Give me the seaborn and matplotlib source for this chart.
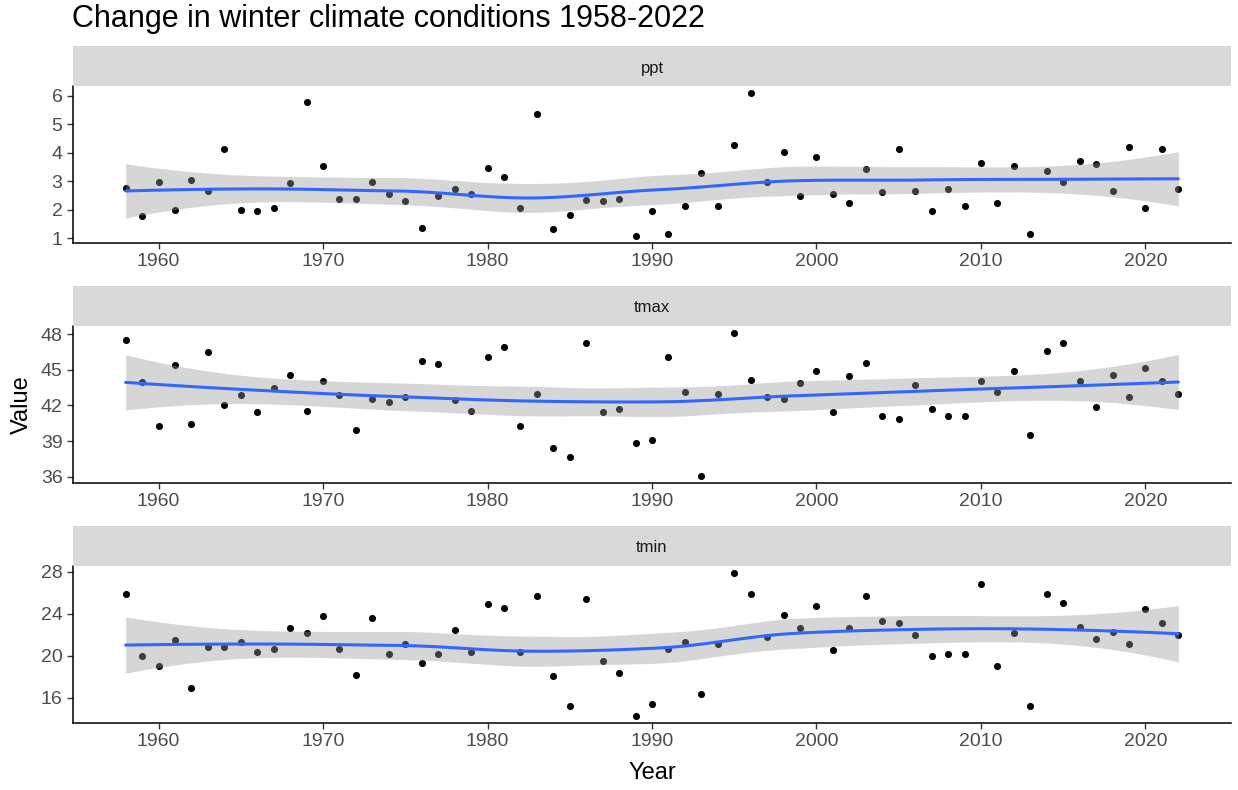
import numpy as np
import pandas as pd
import matplotlib
matplotlib.use("Agg")
import matplotlib.pyplot as plt
import seaborn as sns

# ---------------- data ----------------
title = "Change in winter climate conditions 1958-2022"
years = list(range(1958, 2023))
variables = ["ppt", "tmax", "tmin"]

ppt = [2.75, 1.76, 2.98, 2.0, 3.04, 2.65, 4.14, 2.0, 1.94, 2.06,
       2.92, 5.79, 3.53, 2.37, 2.37, 2.98, 2.54, 2.31, 1.34, 2.47,
       2.73, 2.55, 3.47, 3.16, 2.06, 5.36, 1.33, 1.82, 2.35, 2.31,
       2.38, 1.08, 1.94, 1.14, 2.13, 3.29, 2.13, 4.27, 6.09, 2.98,
       4.02, 2.48, 3.84, 2.55, 2.25, 3.41, 2.61, 4.14, 2.67, 1.94,
       2.73, 2.13, 3.65, 2.25, 3.53, 1.14, 3.35, 2.98, 3.71, 3.59,
       2.67, 4.19, 2.07, 4.14, 2.73]

tmax = [47.49, 43.94, 40.25, 45.38, 40.42, 46.5, 42.0, 42.87, 41.43, 43.43,
        44.59, 41.57, 44.03, 42.87, 39.97, 42.56, 42.28, 42.73, 45.74, 45.46,
        42.42, 41.57, 46.05, 46.93, 40.25, 43.0, 38.39, 37.66, 47.21, 41.43,
        41.71, 38.81, 39.09, 46.05, 43.15, 36.08, 43.0, 48.08, 44.14, 42.73,
        42.56, 43.88, 44.9, 41.43, 44.45, 45.6, 41.12, 40.84, 43.74, 41.71,
        41.12, 41.12, 44.03, 43.15, 44.9, 39.55, 46.62, 47.21, 44.03, 41.86,
        44.59, 42.73, 45.18, 44.03, 43.0]

tmin = [25.89, 19.99, 19.0, 21.46, 16.89, 20.82, 20.82, 21.29, 20.34, 20.65,
        22.6, 22.13, 23.76, 20.65, 18.2, 23.6, 20.15, 21.13, 19.35, 20.15,
        22.44, 20.34, 24.9, 24.58, 20.34, 25.73, 18.04, 15.23, 25.41, 19.51,
        18.36, 14.27, 15.39, 20.65, 21.29, 16.38, 21.13, 27.87, 25.89, 21.81,
        23.91, 22.6, 24.74, 20.5, 22.6, 25.73, 23.28, 23.12, 21.97, 19.99,
        20.15, 20.15, 26.88, 19.0, 22.13, 15.23, 25.89, 25.06, 22.76, 21.61,
        22.28, 21.13, 24.42, 23.12, 21.97]

x_ticks = [1960, 1970, 1980, 1990, 2000, 2010, 2020]
y_ticks = {"ppt": [1, 2, 3, 4, 5, 6],
           "tmax": [36, 39, 42, 45, 48],
           "tmin": [16, 20, 24, 28]}

df = pd.DataFrame({"Year": years * 3,
                   "Variable": np.repeat(variables, len(years)),
                   "Value": ppt + tmax + tmin})


# ---------------- loess (like R loess with interpolation surface) ----------------
def t_quantile(dof):
    z = 1.959963985
    return (z + (z**3 + z) / (4 * dof) + (5 * z**5 + 16 * z**3 + 3 * z) / (96 * dof**2)
            + (3 * z**7 + 19 * z**5 + 17 * z**3 - 15 * z) / (384 * dof**3))


def kd_vertices(x, fc):
    xs = np.sort(x)
    margin = 0.005 * (xs[-1] - xs[0])
    verts = [xs[0] - margin, xs[-1] + margin]

    def split(pts):
        if len(pts) <= fc:
            return
        m = (len(pts) + 1) // 2
        v = (pts[m - 1] + pts[m]) / 2
        verts.append(v)
        split(pts[:m])
        split(pts[m:])

    split(xs)
    return np.array(sorted(verts))


def loess_ci(x, y, xnew, span=0.75, cell=0.2):
    x = np.asarray(x, float)
    y = np.asarray(y, float)
    n = len(x)
    q = int(np.floor(span * n))

    def rows(x0):
        d = np.abs(x - x0)
        h = np.sort(d)[q - 1]
        u = np.clip(d / h, 0, 1)
        w = (1 - u**3) ** 3
        X = np.column_stack([np.ones(n), x - x0, (x - x0) ** 2])
        A = X.T @ (w[:, None] * X)
        B = np.linalg.solve(A, (X * w[:, None]).T)
        return B[0], B[1]

    fc = int(np.floor(n * span * cell))
    V = kd_vertices(x, fc)
    Lv = []
    Dv = []
    for v in V:
        a, b = rows(v)
        Lv.append(a)
        Dv.append(b)
    Lv = np.array(Lv)
    Dv = np.array(Dv)

    def interp_rows(xx):
        out = []
        for xv in xx:
            i = np.searchsorted(V, xv) - 1
            i = min(max(i, 0), len(V) - 2)
            h = V[i + 1] - V[i]
            t = (xv - V[i]) / h
            h00 = 2 * t**3 - 3 * t**2 + 1
            h10 = t**3 - 2 * t**2 + t
            h01 = -2 * t**3 + 3 * t**2
            h11 = t**3 - t**2
            out.append(h00 * Lv[i] + h10 * h * Dv[i] + h01 * Lv[i + 1] + h11 * h * Dv[i + 1])
        return np.array(out)

    L = interp_rows(x)
    res = y - L @ y
    IL = np.eye(n) - L
    M = IL.T @ IL
    d1 = np.trace(M)
    d2 = np.trace(M @ M)
    sigma = np.sqrt(np.sum(res**2) / d1)
    dof = d1**2 / d2
    Ln = interp_rows(xnew)
    fit = Ln @ y
    se = sigma * np.sqrt(np.sum(Ln**2, axis=1))
    tq = t_quantile(dof)
    return fit, fit - tq * se, fit + tq * se


# ---------------- figure ----------------
sns.set_theme(style="ticks")
plt.rcParams["font.family"] = ["Liberation Sans", "DejaVu Sans"]

W, H = 1238, 790
fig = plt.figure(figsize=(W / 100, H / 100), dpi=100)
fig.patch.set_facecolor("white")

left, right = 73, 1231
panels = [(86, 243), (326, 483), (566, 723)]
strip_h = 40

for var, (top, bot) in zip(variables, panels):
    ax = fig.add_axes([left / W, 1 - bot / H, (right - left) / W, (bot - top) / H])
    sax = fig.add_axes([left / W, 1 - top / H, (right - left) / W, strip_h / H])
    sax.set_facecolor("#D9D9D9")
    for s in sax.spines.values():
        s.set_visible(False)
    sax.set_xticks([])
    sax.set_yticks([])
    sax.text(0.5, 0.45, var, ha="center", va="center", fontsize=12,
             color="#1A1A1A", transform=sax.transAxes)

    sub = df[df["Variable"] == var]
    xg = np.linspace(min(years), max(years), 80)
    fit, lo, hi = loess_ci(sub["Year"].values, sub["Value"].values, xg)

    sns.scatterplot(data=sub, x="Year", y="Value", color="black", s=26,
                    linewidth=0, ax=ax, zorder=2)
    ax.fill_between(xg, lo, hi, color="#999999", alpha=0.4, linewidth=0, zorder=3)
    sns.lineplot(x=xg, y=fit, color="#3366FF", linewidth=2.2, ax=ax, zorder=4)

    xr = max(years) - min(years)
    ax.set_xlim(min(years) - 0.05 * xr, max(years) + 0.05 * xr)
    ymin = min(sub["Value"].min(), lo.min())
    ymax = max(sub["Value"].max(), hi.max())
    yr = ymax - ymin
    ax.set_ylim(ymin - 0.05 * yr, ymax + 0.05 * yr)

    ax.set_xticks(x_ticks)
    ax.set_yticks(y_ticks[var])
    ax.tick_params(axis="both", labelsize=14, labelcolor="#4D4D4D", color="#333333",
                   length=4.5, width=1, pad=3)
    ax.set_xlabel("")
    ax.set_ylabel("")
    ax.set_facecolor("white")
    for s in ["top", "right"]:
        ax.spines[s].set_visible(False)
    for s in ["left", "bottom"]:
        ax.spines[s].set_color("black")
        ax.spines[s].set_linewidth(1.1)

fig.text(72 / W, 1 - 19 / H, title, ha="left", va="center", fontsize=22, color="black")
fig.text(652 / W, 1 - 773 / H, "Year", ha="center", va="center", fontsize=17, color="black")
fig.text(22 / W, 1 - 405 / H, "Value", ha="center", va="center", fontsize=17,
         color="black", rotation=90)

fig.savefig("out.png", dpi=100, facecolor="white")
